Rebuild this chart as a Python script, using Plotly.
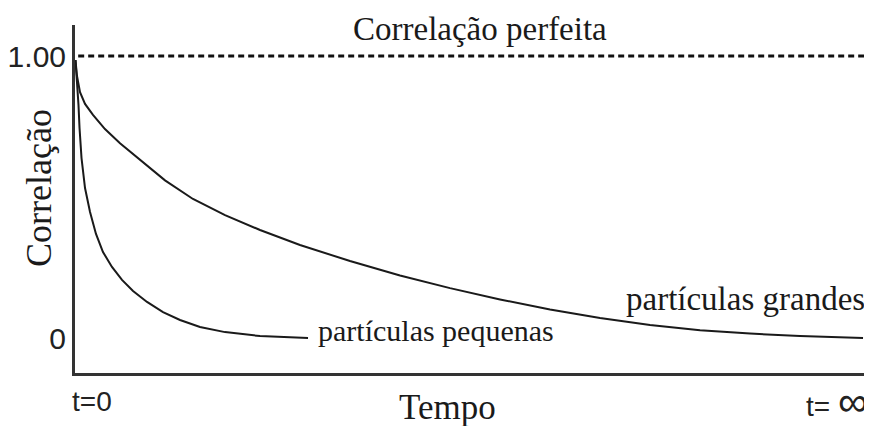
import plotly.graph_objects as go

# curva das partículas grandes (decaimento lento)
grandes_x = [0.06, 0.25, 0.63, 1.26, 2.26, 3.77, 5.66, 8.18, 11.32, 14.84, 18.87, 23.27,
             28.30, 34.59, 40.88, 47.17, 53.46, 59.75, 66.04, 72.33, 78.62, 84.91, 91.19, 99.12]
grandes_y = [0.986, 0.929, 0.872, 0.830, 0.791, 0.741, 0.691, 0.631, 0.559, 0.493, 0.436, 0.383,
             0.330, 0.273, 0.222, 0.177, 0.137, 0.101, 0.071, 0.046, 0.028, 0.016, 0.007, 0.0]

# curva das partículas pequenas (decaimento rápido)
pequenas_x = [0.06, 0.25, 0.44, 0.57, 0.82, 1.26, 1.89, 2.64, 3.52, 4.65, 5.91, 7.30,
              9.06, 11.07, 13.21, 15.72, 18.87, 23.27, 29.31]
pequenas_y = [0.986, 0.915, 0.826, 0.745, 0.638, 0.532, 0.447, 0.369, 0.305, 0.252, 0.206, 0.167,
              0.128, 0.092, 0.064, 0.039, 0.021, 0.007, 0.0]

# linha de correlação perfeita
perfeita_x = [0.4, 100]
perfeita_y = [1.0, 1.0]

y_ticks = [0, 1]
y_ticktext = ["0", "1.00"]

serif = "Liberation Serif, Times New Roman, serif"
sans = "Liberation Sans, Arial, sans-serif"
ink = "#1a1a1a"

fig = go.Figure()
fig.add_trace(go.Scatter(x=perfeita_x, y=perfeita_y, mode="lines",
                         line=dict(color="#111", width=3, dash="6px,4px")))
fig.add_trace(go.Scatter(x=grandes_x, y=grandes_y, mode="lines",
                         line=dict(color=ink, width=2)))
fig.add_trace(go.Scatter(x=pequenas_x, y=pequenas_y, mode="lines",
                         line=dict(color=ink, width=2)))

# a página tem 8px de margem no body, por isso a figura é um pouco menor
fig.update_layout(
    width=864, height=418,
    margin=dict(l=67, r=0, t=17, b=53),
    paper_bgcolor="white", plot_bgcolor="white",
    showlegend=False,
    xaxis=dict(range=[0, 100.25], showgrid=False, zeroline=False,
               showline=True, linewidth=3, linecolor="#333",
               showticklabels=False, ticks=""),
    yaxis=dict(range=[-0.124, 1.11], showgrid=False, zeroline=False,
               showline=True, linewidth=3, linecolor="#333",
               tickvals=y_ticks, ticktext=y_ticktext, ticks="",
               ticklabelstandoff=0,
               tickfont=dict(family=sans, size=30, color="#222")),
)

# rótulos dentro da área do gráfico (coordenadas de dados)
for text, x, y, size in [("Correlação perfeita", 50.9, 1.096, 33),
                         ("partículas grandes", 84.3, 0.138, 33),
                         ("partículas pequenas", 45.4, 0.025, 30)]:
    fig.add_annotation(text=text, x=x, y=y, xref="x", yref="y", showarrow=False,
                       xanchor="center", yanchor="middle",
                       font=dict(family=serif, size=size, color=ink))

# títulos e rótulos do eixo x fora da área (coordenadas de papel)
fig.add_annotation(text="Tempo", x=0.467, y=-0.099, xref="paper", yref="paper",
                   xanchor="center", yanchor="middle", showarrow=False,
                   font=dict(family=serif, size=35, color=ink))
fig.add_annotation(text="Correlação", x=-0.045, y=0.532, xref="paper", yref="paper",
                   xanchor="center", yanchor="middle", textangle=-90, showarrow=False,
                   font=dict(family=serif, size=36, color=ink))
fig.add_annotation(text="t=0", x=-0.006, y=-0.083, xref="paper", yref="paper",
                   xanchor="left", yanchor="middle", showarrow=False,
                   font=dict(family=sans, size=28, color="#222"))
fig.add_annotation(text="t= <span style='font-size:42px'>∞</span>", x=0.9975, y=-0.083,
                   xref="paper", yref="paper", xanchor="right", yanchor="middle",
                   showarrow=False, font=dict(family=sans, size=28, color="#222"))

fig.write_html("out.html")
